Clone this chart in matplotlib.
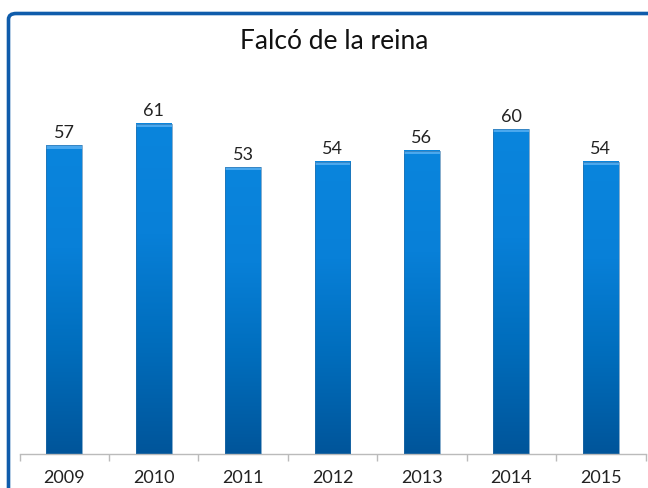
import numpy as np
import matplotlib.pyplot as plt
from matplotlib.patches import FancyBboxPatch
from matplotlib.colors import LinearSegmentedColormap

years = ["2009", "2010", "2011", "2012", "2013", "2014", "2015"]
values = [57, 61, 53, 54, 56, 60, 54]

fig = plt.figure(figsize=(6.48, 4.89), dpi=100)
fig.patch.set_facecolor("white")

# rounded blue frame (runs off the right and bottom edges)
frame = FancyBboxPatch(
    (8.5 / 648, -0.05), 1.2, 1 - 14.5 / 489 + 0.05,
    boxstyle="round,pad=0,rounding_size=0.012",
    transform=fig.transFigure, facecolor="none",
    edgecolor="#0F5CAB", linewidth=2.6, clip_on=False,
)
fig.patches.append(frame)

ax = fig.add_axes([19.5 / 648, 1 - 455 / 489, 626 / 648, 379 / 489])

cmap = LinearSegmentedColormap.from_list(
    "bar", ["#00559A", "#006DBC", "#0880D8", "#0A85DD"])
grad = np.linspace(0, 1, 256).reshape(-1, 1)
width = 0.4

bars = ax.bar(range(len(years)), values, width=width, color="none",
              edgecolor="#2A6EA6", linewidth=0.4, zorder=3)
for b, v in zip(bars, values):
    x0 = b.get_x()
    ax.imshow(grad, extent=(x0, x0 + width, 0, v), origin="lower",
              cmap=cmap, aspect="auto", zorder=2)
    # lighter cap at the top of each bar
    ax.bar(x0 + width / 2, 0.6, bottom=v - 0.6, width=width,
           color="#4AA8EE", linewidth=0, zorder=2.5)
    ax.text(x0 + width / 2, v + 1.0, str(v), ha="center", va="bottom",
            fontsize=13, color="#222222", family="Lato")
ax.set_xlim(-0.5, len(years) - 0.5)
ax.set_ylim(0, 70)

for s in ["top", "right", "left"]:
    ax.spines[s].set_visible(False)
ax.spines["bottom"].set_color("#BBBBBB")
ax.spines["bottom"].set_linewidth(1.0)
ax.set_yticks([])
ax.set_xticks(np.arange(-0.5, len(years), 1.0))
ax.set_xticklabels([])
ax.set_xticks(range(len(years)), minor=True)
ax.set_xticklabels(years, minor=True, fontsize=13, family="Lato", color="#222222")
ax.tick_params(axis="x", which="major", length=5, color="#BBBBBB", width=1)
ax.tick_params(axis="x", which="minor", length=0, pad=11)

fig.text(0.515, 1 - 42 / 489, "Falcó de la reina", ha="center", va="center",
         fontsize=19, family="Lato", color="#111111")

fig.savefig("out.png", dpi=100)
